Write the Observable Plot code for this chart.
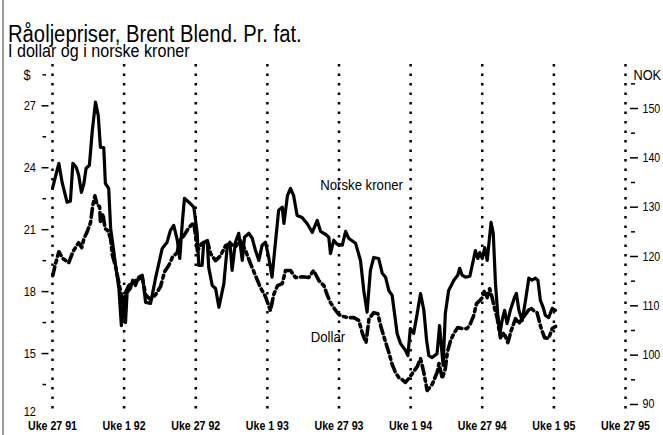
<!DOCTYPE html>
<html><head><meta charset="utf-8">
<script src="https://cdn.jsdelivr.net/npm/d3@7"></script>
<script src="https://cdn.jsdelivr.net/npm/@observablehq/plot@0.6"></script>
<style>
body{margin:0;background:#fff;}
#wrap{position:relative;width:663px;height:435px;overflow:hidden;background:#fff;font-family:"Liberation Sans",Arial,sans-serif;color:#000;}
#chart{position:absolute;left:0;top:0;}
#title{position:absolute;left:8px;top:23px;font-size:23px;line-height:1;white-space:nowrap;transform:scaleX(0.88);transform-origin:left center;}
#subtitle{position:absolute;left:8px;top:43px;font-size:17.5px;line-height:1;white-space:nowrap;transform:scaleX(0.92);transform-origin:left center;}
#border{position:absolute;left:2px;top:0;width:2px;height:435px;background:#999;}
</style></head>
<body>
<div id="wrap">
  <div id="chart"></div>
  <div id="title">Råoljepriser, Brent Blend. Pr. fat.</div>
  <div id="subtitle">I dollar og i norske kroner</div>
  <div id="border"></div>
</div>
<script>
// Weeks counted from "Uke 27 91"
const nokWeek = [0,2.3,3.5,5.3,6.5,7.4,8.6,9.5,10.5,11.4,
12.2,13.4,14.4,15.6,16.6,17.4,18.6,19.2,20.4,21.1,
22.3,22.9,24.1,25.0,25.9,26.5,27.1,28.3,29.1,30.1,
31.3,32.6,33.8,35.6,37.4,39.8,41.6,42.8,44.0,45.3,
46.2,47.1,47.9,49.5,51.3,52.5,53.1,54.3,54.9,56.2,
56.7,58.0,59.2,60.4,62.2,63.4,64.4,65.2,66.4,67.6,
68.9,69.7,71.3,72.5,73.7,74.9,76.1,77.3,78.5,79.7,
80.9,82.1,83.4,84.0,85.3,86.4,87.5,88.8,90.6,92.4,
94.3,96.1,97.3,99.1,100.3,100.9,102.1,103.3,105.2,106.4,
107.5,110.0,111.8,113.0,114.2,115.4,116.6,118.4,119.7,120.9,
122.1,123.3,125.1,126.3,128.1,129.0,129.9,131.1,132.4,133.6,
134.8,135.8,136.6,137.8,139.6,140.5,141.8,142.6,143.8,145.7,
147.1,147.8,148.7,149.9,151.5,152.9,153.5,154.4,155.1,156.0,
156.9,157.8,159.2,160.0,160.8,161.6,162.4,163.2,164.1,165.0,
166.2,167.7,168.4,169.3,170.5,171.7,172.9,174.1,175.3,176.2,
177.1,178.1,178.9,180.1,181.4,182.6];
const nokValue = [133.8,138.9,135.0,131.0,131.2,138.9,138.1,136.5,133.0,134.8,
137.9,138.5,145.2,151.3,148.6,142.1,142.1,134.8,133.8,125.7,
120.8,118.2,113.5,106.0,111.5,106.6,112.7,113.5,115.2,114.1,
115.8,116.2,110.7,110.5,115.6,121.6,122.9,125.3,126.3,123.3,
119.6,126.7,131.8,131.0,130.0,124.9,118.2,118.2,122.9,122.9,
117.8,114.1,113.5,109.7,114.5,121.8,122.9,117.2,122.9,124.7,
119.2,123.9,124.7,123.7,121.2,119.2,122.3,122.9,119.8,115.8,
122.7,129.4,130.0,126.7,132.4,133.8,132.4,128.3,127.9,126.7,
124.9,127.3,125.1,124.5,123.9,120.6,123.3,122.5,122.3,125.1,
123.7,122.7,119.2,113.1,108.7,117.2,119.8,119.6,116.6,115.8,
113.1,112.1,104.4,102.4,101.0,99.9,105.4,104.4,108.5,112.5,
109.1,103.0,99.9,99.5,100.3,106.0,97.9,108.5,113.1,115.2,
116.2,117.6,116.2,115.8,116.0,119.6,121.2,119.6,120.8,119.6,
121.8,119.2,126.9,124.7,114.5,108.5,104.4,107.0,109.1,106.4,
109.1,111.7,112.5,109.1,107.0,111.1,115.6,115.2,115.6,115.2,
111.1,109.7,108.1,107.6,109.5,109.1];

const usdWeek = [0.1,1.1,2.3,3.8,5.9,7.4,9.5,10.6,11.4,12.6,
13.8,14.6,15.4,16.2,17.1,17.4,18.3,19.1,20.1,21.1,
21.7,22.9,24.1,25.0,25.7,26.5,27.7,28.9,30.7,32.6,
33.8,35.6,37.4,39.2,40.7,42.2,43.6,45.3,46.1,47.7,
49.5,51.3,52.6,54.1,56.2,57.4,59.2,61.0,62.8,64.6,
66.4,68.2,70.1,71.9,73.7,75.5,77.3,79.1,80.3,81.7,
83.4,84.6,86.4,88.2,90.6,93.0,94.8,96.7,98.5,99.7,
100.9,102.1,103.9,105.7,107.5,109.4,111.2,112.5,113.8,114.9,
116.6,118.1,119.2,120.5,122.1,123.3,124.5,125.7,126.9,128.1,
129.3,130.6,132.4,133.6,134.8,136.0,137.8,139.6,140.3,141.5,
142.6,143.3,144.5,145.7,147.1,148.7,150.5,151.7,152.9,153.9,
155.1,156.0,156.8,157.8,158.7,159.6,160.4,161.4,162.6,163.8,
165.3,166.5,168.1,169.3,170.5,172.1,173.5,174.7,175.9,177.4,
178.6,180.1,181.4,182.6];
const usdValue = [18.77,19.35,19.93,19.60,19.40,19.93,20.37,20.13,20.56,20.90,
21.34,22.16,22.64,22.21,22.11,21.39,21.77,21.05,20.95,20.56,
19.79,19.21,18.43,17.81,16.98,17.95,18.29,18.43,18.58,18.68,
17.85,17.61,17.85,18.24,18.97,19.26,19.69,19.89,20.47,20.71,
21.10,21.34,19.98,20.32,20.47,19.84,19.50,19.74,20.22,20.32,
20.18,20.47,19.98,19.35,18.77,18.19,17.76,17.08,17.85,18.29,
18.39,19.02,19.02,18.68,18.72,18.68,19.02,18.53,18.29,17.85,
17.47,17.22,16.89,16.79,16.74,16.74,16.60,15.97,15.53,16.69,
16.98,16.93,16.31,15.73,15.05,14.47,14.08,13.84,13.74,13.60,
13.79,14.03,14.37,14.76,14.08,13.21,13.50,14.08,14.52,13.79,
14.27,15.05,15.63,15.97,16.26,16.21,16.21,16.45,16.84,17.42,
17.56,17.71,18.05,17.71,18.14,17.71,17.22,16.74,15.77,16.02,
15.53,16.11,16.69,16.45,16.69,16.98,17.22,17.08,16.98,16.21,
15.77,15.73,16.21,16.31];

const xTicks = [0,26,52,78,104,130,156,182,208];
const xTickLabels = ["Uke 27 91","Uke 1 92","Uke 27 92","Uke 1 93","Uke 27 93","Uke 1 94","Uke 27 94","Uke 1 95","Uke 27 95"];
const usdTicks = [15,18,21,24,27];
const usdBottomTick = [12];
const usdMinor = [13.5,16.5,19.5,22.5,25.5,28.5];
const nokTicks = [90,100,110,120,130,140,150];
const nokMinor = [95,105,115,125,135,145,155];
const seriesLabels = ["Norske kroner","Dollar"];

// NOK axis aligned to the dollar axis (90 NOK ~ 12.53 $, 150 NOK ~ 26.87 $)
const nokToUsdAxis = v => -8.967 + 0.2389 * v;

const nokData = nokWeek.map((w, i) => ({w, v: nokValue[i]}));
const usdData = usdWeek.map((w, i) => ({w, v: usdValue[i]}));
const nokPos = nokTicks.map(nokToUsdAxis);
const nokMinorPos = nokMinor.map(nokToUsdAxis);

const font = '"Liberation Sans",Arial,sans-serif';

const chart = Plot.plot({
  width: 663, height: 435,
  marginLeft: 52, marginRight: 38, marginTop: 64, marginBottom: 20,
  x: {domain: [0, 208]},
  y: {domain: [12, 29]},
  style: {fontFamily: font, fontSize: "13px", color: "#000", background: "transparent"},
  marks: [
    Plot.ruleX(xTicks, {stroke: "#000", strokeWidth: 2.5, strokeDasharray: "2.5,7"}),
    Plot.line(nokData, {x: "w", y: d => nokToUsdAxis(d.v), stroke: "#000", strokeWidth: 3.2, strokeLinejoin: "round"}),
    Plot.line(usdData, {x: "w", y: "v", stroke: "#000", strokeWidth: 3.6, strokeDasharray: "9,4,3,4"}),
    Plot.axisX(xTicks, {tickSize: 0, tickPadding: 6, label: null, fontWeight: "bold", fontSize: 12.5,
      tickFormat: d => xTickLabels[xTicks.indexOf(d)]}),
    Plot.axisY(usdTicks, {anchor: "left", tickSize: 7, dx: -3.5, tickPadding: 6, label: null, strokeWidth: 1.5}),
    Plot.axisY(usdBottomTick, {anchor: "left", tickSize: 0, dx: -3.5, dy: -4, tickPadding: 13, label: null}),
    Plot.axisY(usdMinor, {anchor: "left", tickSize: 3.5, dx: -6, label: null, tickFormat: () => "", strokeWidth: 1.5}),
    Plot.axisY(nokPos, {anchor: "right", tickSize: 8, dx: 4, tickPadding: 5, label: null, strokeWidth: 1.5, fontSize: 12.5,
      tickFormat: d => String(nokTicks[nokPos.indexOf(d)])}),
    Plot.axisY(nokMinorPos, {anchor: "right", tickSize: 4, dx: 5, label: null, tickFormat: () => "", strokeWidth: 1.5}),
    Plot.text(["$"], {x: 0, y: 28.5, dx: -22, textAnchor: "end", fontSize: 15}),
    Plot.text(["NOK"], {x: 208, y: 28.5, dx: 8, textAnchor: "start", fontSize: 15}),
    Plot.text([seriesLabels[0]], {x: 112.2, y: 23.14, fontSize: 15.5}),
    Plot.text([seriesLabels[1]], {x: 100, y: 15.78, fontSize: 15.5})
  ]
});
document.getElementById("chart").appendChild(chart);

// condensed look (Helvetica Narrow in the original): scale each text horizontally around its anchor
chart.querySelectorAll("text").forEach(t => {
  if (!t.textContent) return;
  let tx = 0;
  const xa = t.getAttribute("x");
  if (xa && /^-?[\d.]+$/.test(xa.trim())) { tx = +xa; t.setAttribute("x", 0); }
  const tr = t.getAttribute("transform") || "";
  t.setAttribute("transform", `${tr} translate(${tx},0) scale(0.85,1)`);
});
</script>
</body></html>
